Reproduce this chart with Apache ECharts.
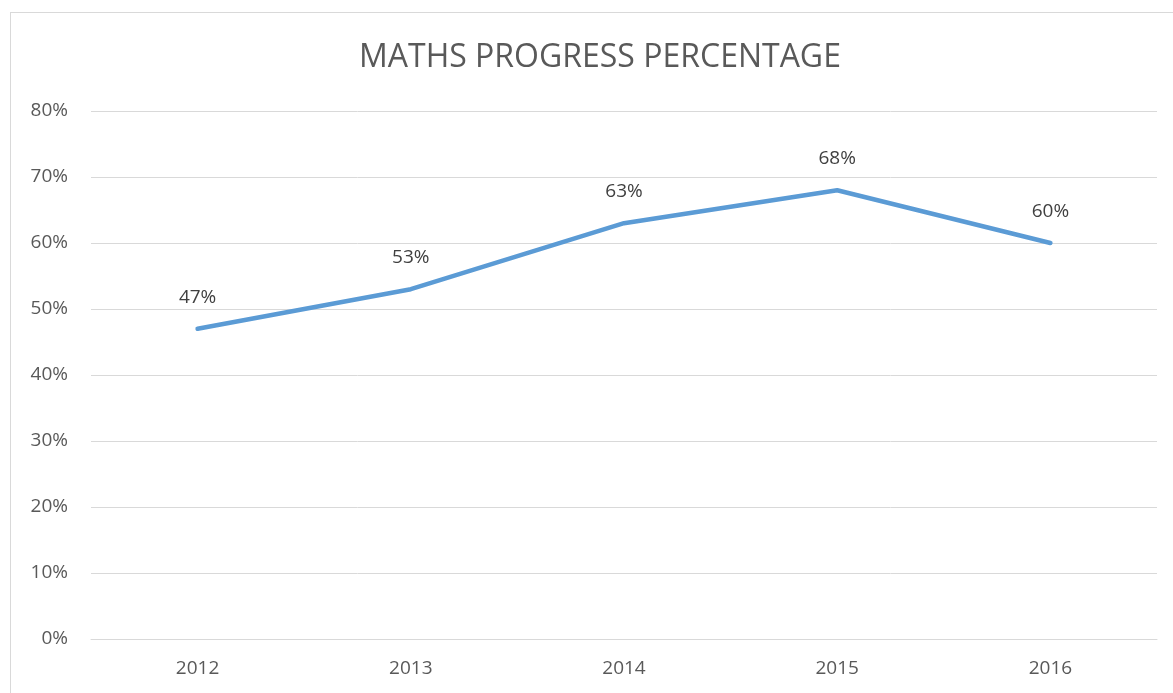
<!DOCTYPE html>
<html><head><meta charset="utf-8">
<script src="https://cdn.jsdelivr.net/npm/echarts@6/dist/echarts.min.js"></script>
<style>
html,body{margin:0;padding:0;background:#fff;overflow:hidden;}
#frame{position:absolute;left:10px;top:12px;width:1200px;height:720px;border:1px solid #d9d9d9;box-sizing:border-box;}
#c{position:absolute;left:0;top:0;width:1173px;height:693px;}
</style></head>
<body>
<div id="frame"></div>
<div id="c"></div>
<script>
const title = 'MATHS PROGRESS PERCENTAGE';
const years = ['2012','2013','2014','2015','2016'];
const progress = [47, 53, 63, 68, 60];
const yTicks = {min: 0, max: 80, interval: 10};

const chart = echarts.init(document.getElementById('c'));
chart.setOption({
  animation: false,
  title: {
    text: title, left: 354, top: 37,
    textStyle: {fontFamily: 'Open Sans', fontSize: 32, fontWeight: 'normal', color: '#595959'}
  },
  grid: {left: 91, right: 16, top: 111, bottom: 54},
  xAxis: {
    type: 'category', data: years, boundaryGap: true,
    axisLine: {show: true, lineStyle: {color: '#d9d9d9', width: 1}},
    axisTick: {show: false},
    axisLabel: {margin: 20, fontFamily: 'Open Sans', fontSize: 19, color: '#595959'}
  },
  yAxis: {
    type: 'value', min: yTicks.min, max: yTicks.max, interval: yTicks.interval,
    axisLine: {show: false}, axisTick: {show: false},
    splitLine: {lineStyle: {color: '#d9d9d9', width: 1}},
    axisLabel: {margin: 23, fontFamily: 'Open Sans', fontSize: 19, color: '#595959', formatter: '{value}%'}
  },
  series: [{
    type: 'line', data: progress, symbol: 'circle', symbolSize: 2, showSymbol: true,
    itemStyle: {color: 'rgba(0,0,0,0)', borderWidth: 0},
    lineStyle: {color: '#5b9bd5', width: 4.5, cap: 'round', join: 'round'},
    label: {show: true, position: 'top', distance: 21, formatter: '{c}%', opacity: 1,
      fontFamily: 'Open Sans', fontSize: 19, color: '#404040'}
  }]
});
</script>
</body></html>
